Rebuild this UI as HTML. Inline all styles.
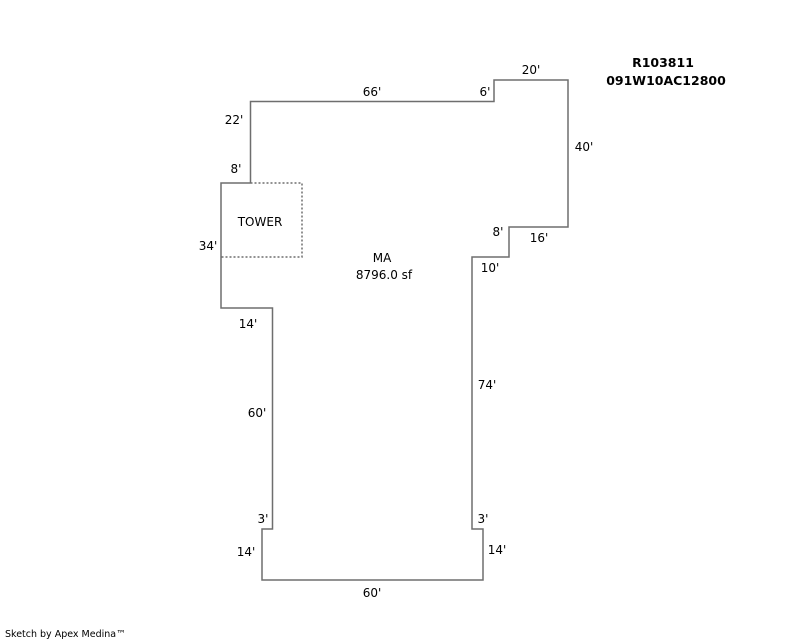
<!DOCTYPE html>
<html><head><style>
html,body{margin:0;padding:0;background:#fff;}
svg{display:block}
text{font-family:"DejaVu Sans","Liberation Sans",sans-serif;font-size:12px;fill:#000;}
.b{font-weight:bold;font-size:12.5px;}
.s{font-size:9.5px;}
</style></head><body>
<svg width="800" height="640" viewBox="0 0 800 640" xmlns="http://www.w3.org/2000/svg">
<polyline fill="none" stroke="#6e6e6e" stroke-width="1.5" points="250.5,183 250.5,101.5 494,101.5 494,80 568,80 568,227 509,227 509,257 472,257 472,529 483,529 483,580 262,580 262,529 272.5,529 272.5,308 221,308 221,183 250.5,183"/>
<polyline fill="none" stroke="#6e6e6e" stroke-width="1.5" stroke-dasharray="2,2" points="250.5,183 302,183 302,257 221,257"/>
<text x="531" y="74" text-anchor="middle">20'</text>
<text x="372" y="96" text-anchor="middle">66'</text>
<text x="485" y="96" text-anchor="middle">6'</text>
<text x="234" y="124" text-anchor="middle">22'</text>
<text x="584" y="151" text-anchor="middle">40'</text>
<text x="236" y="173" text-anchor="middle">8'</text>
<text x="260" y="226" text-anchor="middle">TOWER</text>
<text x="208" y="250" text-anchor="middle">34'</text>
<text x="498" y="236" text-anchor="middle">8'</text>
<text x="539" y="242" text-anchor="middle">16'</text>
<text x="382" y="262" text-anchor="middle">MA</text>
<text x="384" y="279" text-anchor="middle">8796.0 sf</text>
<text x="490" y="272" text-anchor="middle">10'</text>
<text x="248" y="328" text-anchor="middle">14'</text>
<text x="487" y="389" text-anchor="middle">74'</text>
<text x="257" y="417" text-anchor="middle">60'</text>
<text x="263" y="523" text-anchor="middle">3'</text>
<text x="483" y="523" text-anchor="middle">3'</text>
<text x="246" y="556" text-anchor="middle">14'</text>
<text x="497" y="554" text-anchor="middle">14'</text>
<text x="372" y="597" text-anchor="middle">60'</text>
<text class="b" x="663" y="67" text-anchor="middle">R103811</text>
<text class="b" x="666" y="85" text-anchor="middle">091W10AC12800</text>
<text class="s" x="5" y="637">Sketch by Apex Medina™</text>
</svg>
</body></html>
